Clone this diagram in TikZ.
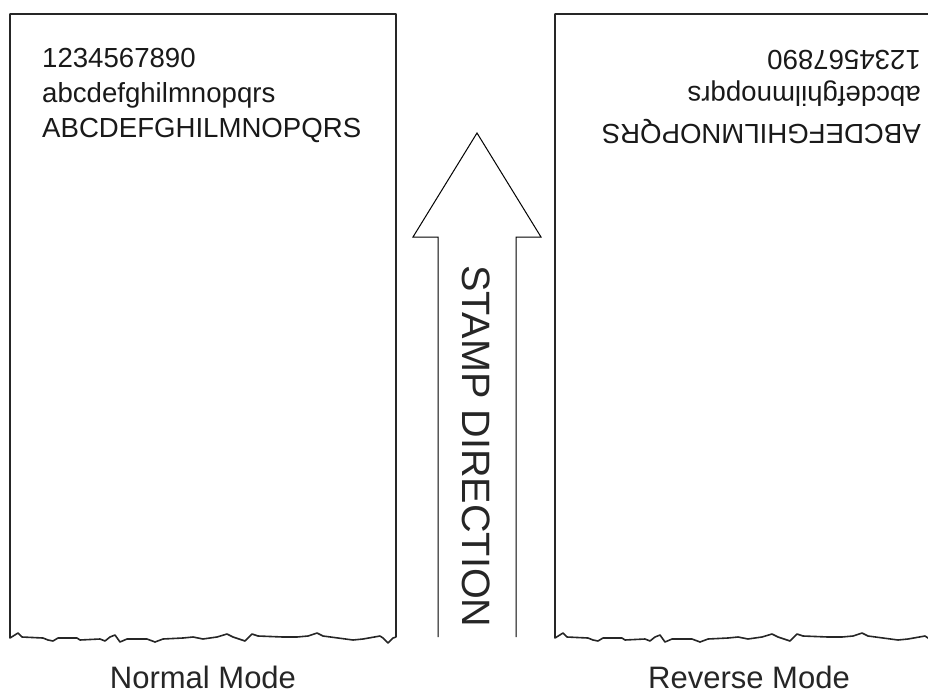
\documentclass[tikz,border=0pt]{standalone}
\usepackage{fontspec}
\setmainfont{Liberation Sans}
\begin{document}
\begin{tikzpicture}[x=1pt,y=-1pt,
  paper/.style={line width=1.6pt, draw=black!85, line join=round},
  arrowline/.style={line width=1pt, draw=black, line join=miter},
  sample/.style={inner sep=0pt, anchor=base west, text=black!90, font=\fontsize{27.6}{28}\selectfont},
  caption/.style={inner sep=0pt, anchor=base, text=black!85, font=\fontsize{31}{31}\selectfont}]
\useasboundingbox (0,0) rectangle (928,696);
\clip (0,0) rectangle (928,696);
% left paper
\draw[paper, shift={(10,0)}] (386,637) -- (386,14) -- (0,14) -- (0,638)
  -- (8,633) -- (12,637) -- (33,638) -- (38,640) -- (43,641) -- (48,638) -- (67,638) -- (70,640)
  -- (90,639) -- (95,641) -- (100,637) -- (105,635) -- (110,642) -- (117,639) -- (137,639) -- (145,642)
  -- (153,639) -- (173,638) -- (183,637) -- (193,639) -- (207,637) -- (217,634) -- (223,637) -- (235,641)
  -- (242,634) -- (248,636) -- (273,637) -- (287,637) -- (298,636) -- (307,633) -- (313,636) -- (343,640)
  -- (353,639) -- (370,636) -- (373,638) -- (378,643) -- (383,638) -- (386,637);
% right paper
\draw[paper, shift={(555,0)}] (386,637) -- (386,14) -- (0,14) -- (0,638)
  -- (8,633) -- (12,637) -- (33,638) -- (38,640) -- (43,641) -- (48,638) -- (67,638) -- (70,640)
  -- (90,639) -- (95,641) -- (100,637) -- (105,635) -- (110,642) -- (117,639) -- (137,639) -- (145,642)
  -- (153,639) -- (173,638) -- (183,637) -- (193,639) -- (207,637) -- (217,634) -- (223,637) -- (235,641)
  -- (242,634) -- (248,636) -- (273,637) -- (287,637) -- (298,636) -- (307,633) -- (313,636) -- (343,640)
  -- (353,639) -- (370,636) -- (373,638) -- (378,643) -- (383,638) -- (386,637);
% arrow
\draw[arrowline] (438,637) -- (438,237) -- (413,237) -- (477,133) -- (541,237) -- (516,237) -- (516,637);
\node[inner sep=0pt, anchor=base west, rotate=-90, text=black!85, font=\fontsize{39.6}{40}\selectfont] (stamp) at (462,265) {STAMP DIRECTION};
% normal text
\node[sample] (n1) at (42,67) {1234567890};
\node[sample] (n2) at (42,102) {abcdefghilmnopqrs};
\node[sample] (n3) at (42,137) {ABCDEFGHILMNOPQRS};
% reverse text
\node[sample, rotate=180] (r1) at (921,50) {1234567890};
\node[sample, rotate=180] (r2) at (921,86) {abcdefghilmnopqrs};
\node[sample, rotate=180] (r3) at (921,124) {ABCDEFGHILMNOPQRS};
% captions
\node[caption] (normal) at (203,688) {Normal Mode};
\node[caption] (reverse) at (749,688) {Reverse Mode};
\end{tikzpicture}
\end{document}
